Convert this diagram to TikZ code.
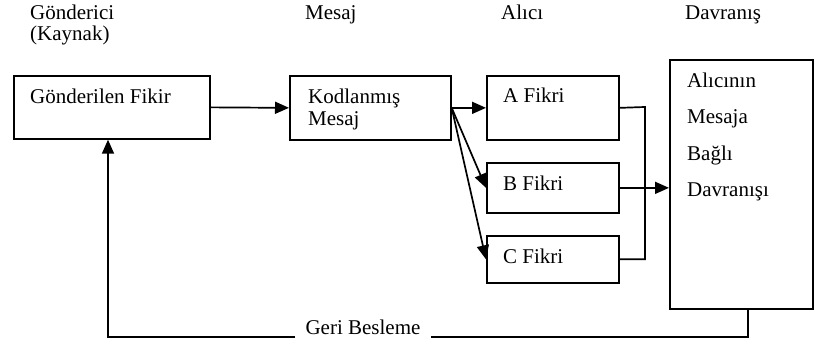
\documentclass[tikz,border=0pt]{standalone}
\usepackage{fontspec}
\setmainfont{Liberation Serif}
\newfontfamily\diagfont{Liberation Serif}
\usetikzlibrary{arrows.meta}
\begin{document}
\begin{tikzpicture}[x=1pt,y=-1pt,
  every node/.style={font=\diagfont\fontsize{21}{24}\selectfont, inner sep=0pt},
  box/.style={draw, line width=1.7pt, anchor=north west},
  lbl/.style={anchor=base west},
  conn/.style={line width=1.7pt},
  arr/.style={conn, -{Triangle[length=14pt,width=12pt]}}]
\useasboundingbox (0,0) rectangle (815,347);

% column headings
\node[lbl] (hsend) at (30,20) {Gönderici};
\node[lbl] (hsrc)  at (30,41) {(Kaynak)};
\node[lbl] (hmsg)  at (305,20) {Mesaj};
\node[lbl] (hrcv)  at (501,20) {Alıcı};
\node[lbl] (hbeh)  at (685,20) {Davranış};

% boxes
\node[box, minimum width=196pt, minimum height=63pt] (gf) at (13,75) {};
\node[box, minimum width=161pt, minimum height=64pt] (km) at (289,75) {};
\node[box, minimum width=132pt, minimum height=64pt] (fa) at (486,75) {};
\node[box, minimum width=132pt, minimum height=50pt] (fb) at (486,162) {};
\node[box, minimum width=132pt, minimum height=47pt] (fc) at (486,235) {};
\node[box, minimum width=143pt, minimum height=249pt] (dv) at (669,59) {};

% box texts
\node[lbl] (tgf)  at (30,104) {Gönderilen Fikir};
\node[lbl] (tkm1) at (308,104) {Kodlanmış};
\node[lbl] (tkm2) at (308,126) {Mesaj};
\node[lbl] (tfa)  at (503,103) {A Fikri};
\node[lbl] (tfb)  at (503,191) {B Fikri};
\node[lbl] (tfc)  at (503,264) {C Fikri};
\node[lbl] (tdv1) at (687,88)  {Alıcının};
\node[lbl] (tdv2) at (687,124) {Mesaja};
\node[lbl] (tdv3) at (687,161) {Bağlı};
\node[lbl] (tdv4) at (687,197) {Davranışı};

% forward flow
\draw[arr] (gf.east) -- (km.west);
\draw[arr] (km.east) -- (fa.west);
\draw[arr] (km.east) -- (fb.west);
\draw[arr] (km.east) -- (fc.west);

% reactions gathered into behaviour
\coordinate (brA) at (645,107);
\draw[conn] (fa.east) -- (brA) -- (brA |- fc.east) -- (fc.east);
\draw[arr] (fb.east) -- (fb.east -| dv.west);

% feedback loop
\node[anchor=base] (fbk) at (363,335) {Geri Besleme};
\coordinate (fbR) at (748,337);
\coordinate (fbL) at (108,337);
\draw[conn] (fbR |- dv.south) -- (fbR) -- ([xshift=10pt]fbk.east |- fbR);
\draw[arr] ([xshift=-10pt]fbk.west |- fbL) -- (fbL) -- (fbL |- gf.south);
\end{tikzpicture}
\end{document}
